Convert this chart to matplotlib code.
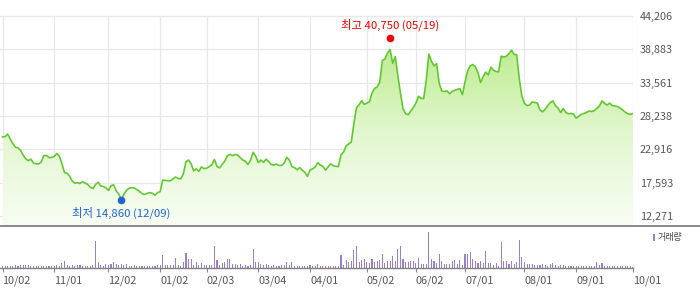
import numpy as np
import matplotlib.pyplot as plt
from matplotlib.colors import LinearSegmentedColormap
from matplotlib.lines import Line2D
from matplotlib.patches import Rectangle

plt.rcParams['font.family'] = ['Noto Sans CJK KR', 'DejaVu Sans']

# trading-day index of each month's first session, and its label
tick_pos = [0, 20, 41, 61, 79, 99, 119, 141, 160, 179, 202, 222, 244]
tick_labels = ['10/02', '11/01', '12/02', '01/02', '02/03', '03/04', '04/01',
               '05/02', '06/02', '07/01', '08/01', '09/01', '10/01']
price_ticks = [12271, 17593, 22916, 28238, 33561, 38883, 44206]

# daily close (won)
close = [
    24900, 24950, 25350, 24550, 23850, 23250, 23150, 22750, 22000, 21400,
    21100, 21350, 20700, 20600, 20600, 20900, 21900, 21950, 21600, 21600,
    21750, 22250, 21850, 20600, 19200, 19100, 18600, 17850, 17500, 17600,
    17450, 17750, 17500, 17300, 16850, 16650, 17300, 17650, 17050, 17000,
    16750, 16350, 17100, 17250, 16300, 15750, 14860, 15750, 16400, 16700,
    16800, 16750, 16500, 16200, 15850, 15700, 15900, 16000, 15900, 15600,
    16000, 16150, 18000, 17950, 17900, 17900, 18200, 18500, 18250, 18200,
    19000, 20950, 21200, 20600, 19450, 19800, 19400, 20100, 19850, 19900,
    20150, 20450, 21300, 20200, 19950, 20500, 21050, 21850, 22100, 21900,
    22100, 22000, 21600, 21200, 21000, 20500, 21200, 22450, 21800, 20800,
    21200, 20850, 21350, 20950, 20500, 20400, 20550, 20350, 20350, 20700,
    21650, 21200, 20150, 20000, 19650, 20000, 19600, 19250, 18600, 19600,
    19800, 20100, 20800, 20400, 20200, 19600, 20100, 20600, 20300, 20200,
    20150, 22050, 22500, 23450, 23800, 24100, 27100, 29600, 30050, 30700,
    30100, 30300, 30500, 31900, 32650, 32900, 33650, 37100, 37350, 38300,
    38850, 36650, 37750, 34650, 31900, 29400, 28600, 28450, 29050, 29600,
    30300, 31400, 31050, 31050, 34000, 38150, 37000, 36250, 36600, 33450,
    32250, 32150, 32250, 31800, 32150, 32350, 32500, 32600, 31650, 33700,
    35450, 36250, 36450, 36100, 35200, 33600, 34500, 35250, 34800, 36050,
    35550, 35350, 35300, 37800, 37650, 37800, 38200, 38750, 38100, 38000,
    34150, 31400, 30250, 29900, 30000, 30500, 30400, 30300, 29200, 28900,
    29300, 29900, 30400, 30650, 29900, 29500, 28800, 29450, 28800, 28600,
    28650, 28550, 27900, 28200, 28500, 28650, 28800, 29050, 28950, 29100,
    29450, 29850, 30650, 30250, 30000, 30300, 29900, 29850, 29750, 29500,
    29200, 28850, 28600, 28500, 28650,
]

# daily volume (10k shares)
volume = [
    7, 5, 5, 5, 7, 10, 5, 10, 10, 8,
    10, 7, 7, 7, 5, 5, 7, 7, 7, 7,
    5, 10, 7, 15, 22, 10, 7, 10, 7, 10,
    8, 7, 7, 5, 7, 10, 82, 18, 10, 7,
    13, 10, 13, 17, 13, 10, 13, 10, 13, 7,
    7, 8, 7, 7, 5, 7, 5, 7, 5, 7,
    8, 8, 40, 10, 10, 10, 10, 30, 10, 7,
    17, 45, 27, 27, 10, 17, 10, 15, 8, 10,
    8, 10, 65, 25, 10, 15, 17, 27, 27, 12,
    13, 10, 12, 7, 10, 7, 8, 57, 18, 17,
    13, 10, 13, 10, 7, 10, 7, 7, 8, 10,
    18, 10, 18, 7, 5, 7, 5, 7, 5, 10,
    5, 7, 12, 7, 5, 7, 7, 7, 5, 5,
    5, 40, 10, 23, 17, 20, 55, 65, 17, 23,
    27, 17, 15, 27, 17, 20, 23, 43, 15, 20,
    20, 37, 20, 57, 65, 27, 17, 17, 20, 20,
    15, 30, 13, 13, 13, 108, 27, 20, 15, 43,
    20, 13, 13, 13, 20, 23, 13, 25, 10, 43,
    43, 48, 27, 20, 15, 20, 15, 52, 15, 15,
    10, 15, 7, 79, 20, 20, 13, 20, 13, 17,
    85, 33, 17, 13, 13, 13, 10, 10, 10, 13,
    10, 7, 13, 15, 10, 7, 10, 10, 7, 7,
    7, 5, 5, 5, 5, 5, 5, 5, 5, 5,
    17, 10, 15, 7, 5, 5, 5, 5, 7, 5,
    5, 5, 5, 5, 3,
]

high_idx, high_val, high_date = 150, 40750, '05/19'
low_idx, low_val, low_date = 46, 14860, '12/09'

W, H = 700, 289
fig = plt.figure(figsize=(W / 100, H / 100), dpi=100)
ax = fig.add_axes([0, (H - 225) / H, 633 / W, 225 / H])
axv = fig.add_axes([0, (H - 268) / H, 633 / W, 42 / H])

x = np.arange(len(close))
xlim = (-0.97, 244)
ylim = (10830, 46770)

# gridlines
for v in price_ticks:
    ax.axhline(v, color='#e8e8e8', lw=0.9, zorder=0)
ax.vlines(tick_pos, ylim[0], price_ticks[-1], color='#e8e8e8', lw=0.9, zorder=0)

# gradient area under the line
poly = ax.fill_between(x, close, ylim[0], color='none', lw=0)
cmap = LinearSegmentedColormap.from_list('g', ['#f8fdf3', '#e2f7cf', '#bbec8c'])
grad = np.linspace(0, 1, 256).reshape(-1, 1)
img = ax.imshow(grad, cmap=cmap, origin='lower', aspect='auto',
                extent=[x[0], x[-1], ylim[0], 40000], zorder=1)
img.set_clip_path(poly.get_paths()[0], transform=ax.transData)

ax.plot(x, close, color='#62c832', lw=1.2, zorder=2)

# high / low markers
ax.plot(high_idx, high_val, 'o', color='#f00000', ms=4.5, zorder=3)
ax.annotate(f'최고 {high_val:,} ({high_date})', xy=(high_idx, high_val),
            xytext=(0, 9), textcoords='offset points', ha='center', va='center',
            color='#f00000', fontsize=8.2)
ax.plot(low_idx, low_val, 'o', color='#1e64d2', ms=4.5, zorder=3)
ax.annotate(f'최저 {low_val:,} ({low_date})', xy=(low_idx, low_val),
            xytext=(0, -9.3), textcoords='offset points', ha='center', va='center',
            color='#1e64d2', fontsize=8.2)

ax.set_xlim(xlim)
ax.set_ylim(ylim)
ax.yaxis.tick_right()
ax.set_yticks(price_ticks)
ax.set_yticklabels([f'{v:,}' for v in price_ticks])
ax.tick_params(axis='y', length=0, pad=5, labelsize=7.8, labelcolor='#555555')
ax.tick_params(axis='x', bottom=False, labelbottom=False)
for s in ax.spines.values():
    s.set_visible(False)

# separator between panels
fig.add_artist(Line2D([0, 1], [(H - 225.5) / H] * 2, color='#808080', lw=1.3))

# volume panel
axv.bar(x, volume, width=0.42, color='#9a80c8', lw=0, antialiased=False)
axv.set_xlim(xlim)
axv.set_ylim(0, 126)
axv.set_yticks([])
axv.set_xticks(tick_pos)
axv.set_xticklabels(tick_labels)
for lab in axv.get_xticklabels():
    lab.set_ha('left')
axv.tick_params(axis='x', length=3, width=0.8, color='#888888', pad=2.5,
                labelsize=7.8, labelcolor='#555555')
for k in ['top', 'left', 'right']:
    axv.spines[k].set_visible(False)
axv.spines['bottom'].set_color('#808080')
axv.spines['bottom'].set_linewidth(1)

fig.add_artist(Rectangle((653 / W, (H - 241) / H), 2 / W, 7 / H,
                         transform=fig.transFigure, color='#9a80c8', lw=0))
fig.text(658 / W, (H - 237.5) / H, '거래량', fontsize=6.5, color='#444444',
         va='center', ha='left')

fig.savefig('out.png', dpi=100)
